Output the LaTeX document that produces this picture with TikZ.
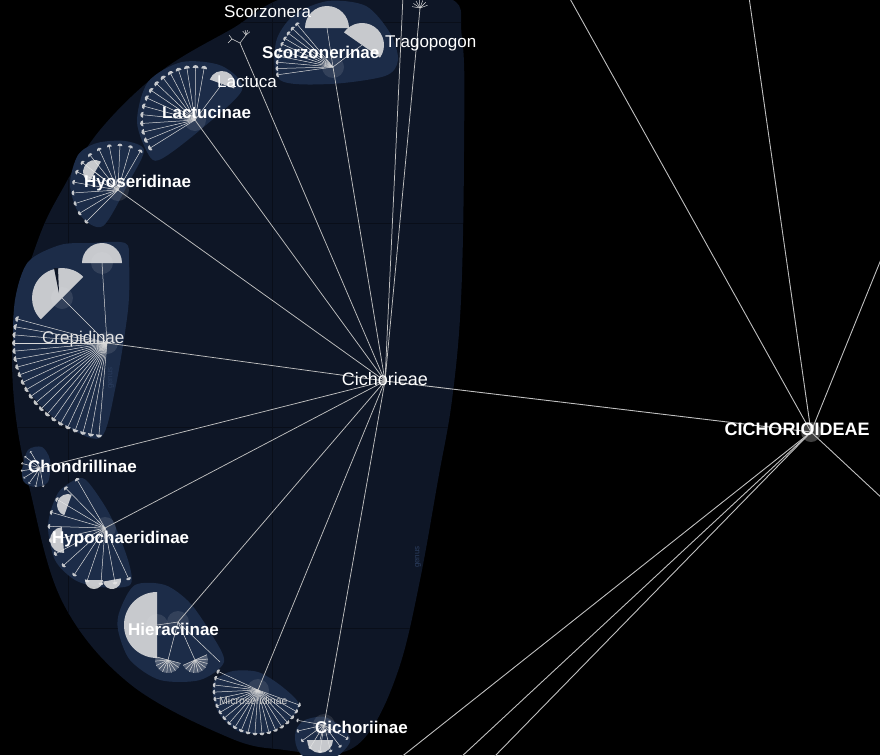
\documentclass[tikz,border=0pt]{standalone}
\usepackage{fontspec}
\setmainfont{Liberation Sans}
\usetikzlibrary{calc}
\definecolor{navy}{RGB}{14,22,38}
\definecolor{blobblue}{RGB}{28,44,72}
\definecolor{gridline}{RGB}{9,14,25}
\definecolor{faint}{RGB}{42,60,92}

\begin{document}
\begin{tikzpicture}[x=1pt, y=1pt,
            every node/.style = {inner sep=0pt, text=white},
            branch/.style = {draw=white!75!black, line width=0.9pt},
            ray/.style = {draw=white!85!black, line width=0.5pt},
            blob/.style = {fill=blobblue},
            genus/.style = {fill=white!90!black, fill opacity=0.85},
            fan/.style = {fill=white, fill opacity=0.25},
            glow/.style = {fill=white, fill opacity=0.1},
            tribe/.style = {font=\bfseries\fontsize{17}{20}\selectfont, anchor=base west},
            species/.style = {font=\fontsize{17}{20}\selectfont, anchor=base west},
            genustag/.style = {font=\fontsize{8}{9}\selectfont, text=faint, rotate=90}
            ]
    \fill[black] (0,0) rectangle (880,-755);
    \useasboundingbox (0,0) rectangle (880,-755);

    % tribe outline with map grid
    \begin{scope}
        \clip plot[smooth cycle, tension=0.6] coordinates {(300,6) (442,4) (462,-38) (464,-150) (461,-300) (452,-400) (438,-480) (420,-580) (400,-665) (372,-728) (340,-753) (285,-750) (230,-738) (130,-684) (63,-603) (30,-490) (14,-400) (15,-320) (38,-240) (62,-190) (100,-130) (160,-72) (230,-30)};
        \fill[navy] (0,0) rectangle (880,-755);
        \foreach \gx in {68,272}
            \draw[gridline] (\gx,0) -- (\gx,-755);
        \foreach \gy in {22,223,427,628}
            \draw[gridline] (0,-\gy) -- (880,-\gy);
    \end{scope}

    % hubs
    \coordinate (cichorioideae) at (811,-432);
    \coordinate (cichorieae) at (385,-381);
    \coordinate (scorzonerinae) at (333,-67);
    \coordinate (lactucinae) at (195,-120);
    \coordinate (hyoseridinae) at (118,-190);
    \coordinate (crepidinae) at (107,-343);
    \coordinate (chondrillinae) at (40,-468);
    \coordinate (hypochaeridinae) at (105,-528);
    \coordinate (hieraciinae) at (178,-622);
    \coordinate (microseridinae) at (258,-690);
    \coordinate (cichoriinae) at (324,-725);
    \coordinate (stemA) at (403,4);
    \coordinate (stemB) at (420,-8);
    \coordinate (stemC) at (240,-43);
    % big genera
    \coordinate (scorzonera) at (327,-28);
    \coordinate (tragopogon) at (362,-45);
    \coordinate (lactuca) at (222,-84);
    \coordinate (hyosbig) at (95,-172);
    \coordinate (crepis) at (62,-298);
    \coordinate (crepdome) at (102,-263);
    \coordinate (hieracium) at (157,-625);
    \coordinate (hierfanA) at (168,-660);
    \coordinate (hierfanB) at (195,-660);
    \coordinate (hierend) at (220,-662);
    \coordinate (cichdome) at (320,-740);
    % branches leaving the view
    \coordinate (up1) at (569,3);
    \coordinate (up2) at (749,3);
    \coordinate (east1) at (884,-252);
    \coordinate (east2) at (884,-500);
    \coordinate (down1) at (400,-758);
    \coordinate (down2) at (460,-758);
    \coordinate (down3) at (493,-758);

    % subtribe blobs
    \fill[blob] plot[smooth cycle] coordinates {(280,-80) (276,-42) (294,-15) (328,-1) (366,-6) (390,-33) (398,-60) (385,-76) (330,-84)};
    \fill[blob] plot[smooth cycle] coordinates {(150,-157) (137,-122) (148,-82) (182,-62) (222,-66) (242,-90) (200,-130) (163,-158)};
    \fill[blob] plot[smooth cycle] coordinates {(70,-185) (78,-155) (97,-143) (125,-141) (144,-150) (130,-180) (103,-226) (80,-215)};
    \fill[blob] plot[smooth cycle, tension=0.5] coordinates {(15,-300) (28,-262) (60,-245) (90,-243) (125,-243) (129,-260) (128,-310) (115,-390) (100,-438) (60,-422) (28,-390) (14,-350)};
    \fill[blob] plot[smooth cycle] coordinates {(22,-470) (28,-450) (42,-447) (50,-460) (48,-482) (35,-487) (24,-482)};
    \fill[blob] plot[smooth cycle] coordinates {(77,-479) (58,-493) (48,-525) (55,-560) (75,-580) (100,-587) (130,-585) (128,-560) (110,-515) (88,-482)};
    \fill[blob] plot[smooth cycle] coordinates {(120,-610) (135,-585) (165,-585) (190,-603) (212,-635) (224,-662) (200,-680) (160,-680) (130,-660) (118,-630)};
    \fill[blob] plot[smooth cycle] coordinates {(215,-680) (233,-671) (258,-672) (280,-685) (298,-702) (295,-714) (270,-732) (240,-732) (220,-715) (213,-695)};
    \fill[blob] plot[smooth cycle] coordinates {(296,-730) (305,-720) (325,-717) (345,-730) (350,-742) (335,-757) (305,-757) (296,-745)};

    \foreach \s in {scorzonerinae,lactucinae,hyoseridinae,crepidinae,hypochaeridinae,hieraciinae,microseridinae,cichoriinae,crepis,crepdome,hieracium}
        \fill[glow] (\s) circle[radius=11];
    \fill[black!75!white] (cichorioideae) circle[radius=10];

    % main branches
    \foreach \s in {up1,up2,east1,east2,down1,down2,down3,cichorieae}
        \draw[branch] (cichorioideae) -- (\s);
    \foreach \s in {scorzonerinae,lactucinae,hyoseridinae,crepidinae,chondrillinae,hypochaeridinae,hieraciinae,microseridinae,cichoriinae,stemA,stemB,stemC}
        \draw[branch, line width=0.75pt] (cichorieae) -- (\s);

    % genus fans
    \foreach \hub/\abeg/\aend/\len/\n/\capr in {
            scorzonerinae/130/188/55/9/2.5,
            lactucinae/80/212/52/14/3,
            hyoseridinae/60/225/44/12/2.5,
            crepidinae/165/265/92/20/3,
            chondrillinae/120/280/18/7/1.5,
            hypochaeridinae/120/295/55/12/2.5,
            microseridinae/155/340/43/20/2.5,
            cichoriinae/170/330/26/7/2} {
        \foreach \i in {0,...,\n} {
            \pgfmathsetmacro\a{\abeg+(\aend-\abeg)*\i/\n}
            \draw[ray] (\hub) -- ++(\a:\len);
            \fill[genus] (\hub) ++(\a:\len) ++(\a+90:\capr) arc[start angle=\a+90, end angle=\a-90, radius=\capr] -- cycle;
        }
    }
    \foreach \hub/\g in {scorzonerinae/scorzonera, scorzonerinae/tragopogon, lactucinae/lactuca, hyoseridinae/hyosbig, crepidinae/crepis, crepidinae/crepdome, hieraciinae/hieracium, hieraciinae/hierfanA, hieraciinae/hierfanB, hieraciinae/hierend, cichoriinae/cichdome}
        \draw[ray] (\hub) -- (\g);

    % large genera
    \fill[genus] (scorzonera) ++(0:22) arc[start angle=0, end angle=180, radius=22] -- cycle;
    \fill[genus] (tragopogon) ++(-35:22) arc[start angle=-35, end angle=145, radius=22] -- cycle;
    \fill[genus] (lactuca) ++(-20:13) arc[start angle=-20, end angle=160, radius=13] -- cycle;
    \fill[genus] (hyosbig) ++(60:12) arc[start angle=60, end angle=240, radius=12] -- cycle;
    \fill[genus] (crepis) ++(45:30) arc[start angle=45, end angle=225, radius=30] -- cycle;
    \fill[navy] (59,-293) -- (54,-268) -- (58,-268) -- cycle;
    \fill[genus] (crepdome) ++(0:20) arc[start angle=0, end angle=180, radius=20] -- cycle;
    \fill[genus] (68,-505) ++(70:11) arc[start angle=70, end angle=250, radius=11] -- cycle;
    \fill[genus] (63,-540) ++(95:13) arc[start angle=95, end angle=275, radius=13] -- cycle;
    \fill[genus] (94,-580) ++(180:9) arc[start angle=180, end angle=360, radius=9] -- cycle;
    \fill[genus] (112,-580) ++(190:9) arc[start angle=190, end angle=370, radius=9] -- cycle;
    \fill[genus] (hieracium) ++(90:33) arc[start angle=90, end angle=270, radius=33] -- cycle;
    \foreach \f/\s in {hierfanA/165, hierfanB/204} {
        \fill[fan] (\f) ++(\s:13) arc[start angle=\s, end angle=\s+180, radius=13] -- cycle;
        \foreach \b in {0,...,9}
            \draw[ray] (\f) -- ++(\s+\b*20:13);
    }
    \fill[genus] (cichdome) ++(180:13) arc[start angle=180, end angle=360, radius=13] -- cycle;

    % small trees at the top
    \draw[ray] (stemC) -- ++(-8,4) coordinate (stemCa) -- ++(-4,-4);
    \draw[ray] (stemCa) -- ++(-3,4);
    \draw[ray] (stemC) -- ++(6,8) coordinate (stemCb);
    \foreach \b in {40,70,100,130}
        \draw[ray] (stemCb) -- ++(\b:5);
    \foreach \b in {20,45,...,170}
        \draw[ray] (stemB) -- ++(\b:8);

    % labels
    \node[species] (lblScorzonera) at (224,-17) {Scorzonera};
    \node[species] (lblTragopogon) at (385,-47) {Tragopogon};
    \node[tribe] (lblScorzonerinae) at (262,-58) {Scorzonerinae};
    \node[species] (lblLactuca) at (217,-87) {Lactuca};
    \node[tribe] (lblLactucinae) at (162,-118) {Lactucinae};
    \node[tribe] (lblHyoseridinae) at (84,-187) {Hyoseridinae};
    \node[species, text=white!90!black] (lblCrepidinae) at (42,-343) {Crepidinae};
    \node[font=\fontsize{18}{21}\selectfont] (lblCichorieae) at (385,-379) {Cichorieae};
    \node[font=\bfseries\fontsize{18}{21}\selectfont] (lblCichorioideae) at (797,-429) {CICHORIOIDEAE};
    \node[tribe] (lblChondrillinae) at (28,-472) {Chondrillinae};
    \node[tribe] (lblHypochaeridinae) at (52,-543) {Hypochaeridinae};
    \node[tribe] (lblHieraciinae) at (128,-635) {Hieraciinae};
    \node[anchor=base west, font=\fontsize{10.5}{12}\selectfont, text=white!80!black] (lblMicroseridinae) at (219,-704) {Microseridinae};
    \node[tribe] (lblCichoriinae) at (315,-733) {Cichoriinae};
    \node[genustag] (tagA) at (111,-378) {genus};
    \node[genustag] (tagB) at (418,-557) {genus};
\end{tikzpicture}
\end{document}
